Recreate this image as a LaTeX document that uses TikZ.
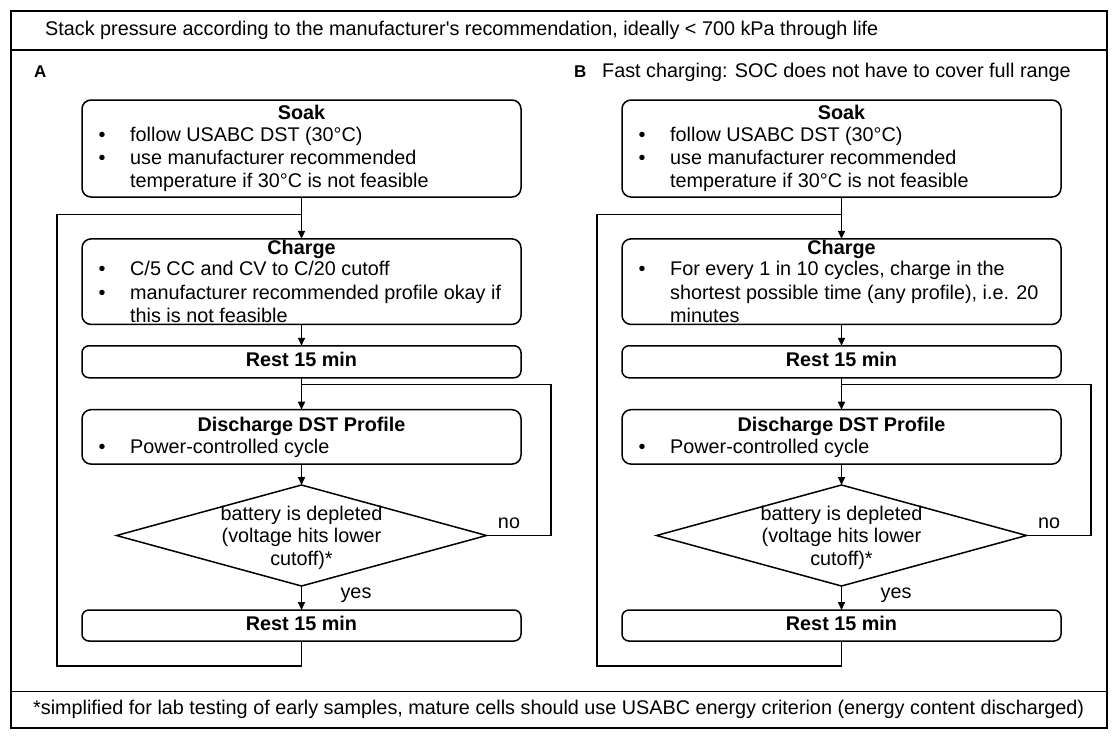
\documentclass[tikz,border=0pt]{standalone}
\usepackage{fontspec}
\setmainfont{Liberation Sans}
\usetikzlibrary{arrows.meta,shapes.geometric}
\tikzset{
  base/.style={font=\fontsize{19.8}{23}\selectfont, yshift=-2pt},
  box/.style={draw, line width=1.5pt, rounded corners=9pt, inner sep=0pt, outer sep=0pt},
  ln/.style={base, anchor=mid west, inner sep=0pt},
  bul/.style={base, anchor=mid, inner sep=0pt},
  ttl/.style={base, anchor=mid, inner sep=0pt, font=\fontsize{19.8}{23}\selectfont\bfseries},
  ctr/.style={base, anchor=mid, inner sep=0pt},
  conn/.style={line width=1.5pt},
  arr/.style={line width=1.5pt, -{Triangle[length=8pt,width=7pt]}},
  dia/.style={draw, diamond, line width=1.5pt, inner sep=0pt, outer sep=0pt, minimum width=370pt, minimum height=101pt},
}
\newcommand\flowpanel[1]{%
  \node[box, minimum width=439pt, minimum height=97pt] (#1soak) at (301.5,148.5) {};
  \node[ttl] (#1soakT) at (301.5,114.6) {Soak};
  \node[bul] (#1soakB1) at (102,136.9) {•};
  \node[ln] (#1soakL1) at (130,136.9) {follow USABC DST (30°C)};
  \node[bul] (#1soakB2) at (102,160.2) {•};
  \node[ln] (#1soakL2) at (130,160.2) {use manufacturer recommended};
  \node[ln] (#1soakL3) at (130,183) {temperature if 30°C is not feasible};
  \coordinate (#1j1) at (301.5,214.6);
  \node[box, minimum width=439pt, minimum height=85.5pt] (#1charge) at (301.5,281.65) {};
  \node[ttl] (#1chargeT) at (301.5,250) {Charge};
  \node[box, rounded corners=7pt, minimum width=439pt, minimum height=32pt] (#1rest1) at (301.5,361.75) {};
  \node[ttl] (#1rest1T) at (#1rest1) {Rest 15 min};
  \coordinate (#1j2) at (301.5,384.5);
  \node[box, minimum width=439pt, minimum height=54.4pt] (#1dis) at (301.5,436.9) {};
  \node[ttl] (#1disT) at (301.5,427.2) {Discharge DST Profile};
  \node[bul] (#1disB1) at (102,448.6) {•};
  \node[ln] (#1disL1) at (130,448.6) {Power-controlled cycle};
  \node[dia] (#1dia) at (301.5,535.5) {};
  \node[ctr] (#1diaL1) at (301.5,516) {battery is depleted};
  \node[ctr] (#1diaL2) at (301.5,538) {(voltage hits lower};
  \node[ctr] (#1diaL3) at (301.5,560.5) {cutoff)*};
  \node[ctr] (#1no) at (509,524) {no};
  \node[ctr] (#1yes) at (356,594) {yes};
  \node[box, rounded corners=7pt, minimum width=439pt, minimum height=31pt] (#1rest2) at (301.5,625.5) {};
  \node[ttl] (#1rest2T) at (#1rest2) {Rest 15 min};
  \coordinate (#1lbr) at (301.5,666);
  \coordinate (#1lbl) at (57,666);
  \coordinate (#1ltl) at (57,214.6);
  \coordinate (#1irt) at (551,384.5);
  % connectors
  \draw[arr] (#1soak.south) -- (#1charge.north);
  \draw[conn] (#1rest2.south) -- (#1lbr) -- (#1lbl) -- (#1ltl) -- (#1j1);
  \draw[arr] (#1charge.south) -- (#1rest1.north);
  \draw[arr] (#1rest1.south) -- (#1dis.north);
  \draw[conn] (#1dia.east) -| (#1irt) -- (#1j2);
  \draw[arr] (#1dis.south) -- (#1dia.north);
  \draw[arr] (#1dia.south) -- (#1rest2.north);
}
\begin{document}
\begin{tikzpicture}[x=1pt,y=-1pt]
  \useasboundingbox (0,0) rectangle (1118,739);
  \fill[white] (0,0) rectangle (1118,739);
  % frame
  \draw[line width=1.4pt] (11,11) rectangle (1107,728);
  \draw[line width=1.4pt] (11,50) -- (1107,50);
  \draw[line width=1.4pt] (11,691.5) -- (1107,691.5);
  \node[ln] (title) at (45,30.5) {Stack pressure according to the manufacturer\textquotesingle s recommendation, ideally < 700 kPa through life};
  \node[ln, font=\fontsize{17}{20}\selectfont\bfseries] (labA) at (34,73) {A};
  \node[ln, font=\fontsize{17}{20}\selectfont\bfseries] (labB) at (574,73) {B};
  \node[ln] (subB) at (602,73) {Fast charging: SOC does not have to cover full range};
  \node[ln] (foot) at (33,710) {*simplified for lab testing of early samples, mature cells should use USABC energy criterion (energy content discharged)};
  % panel A
  \flowpanel{A}
  \node[bul] (AchB1) at (102,270.5) {•};
  \node[ln] (AchL1) at (130,270.5) {C/5 CC and CV to C/20 cutoff};
  \node[bul] (AchB2) at (102,294.8) {•};
  \node[ln] (AchL2) at (130,294.8) {manufacturer recommended profile okay if};
  \node[ln] (AchL3) at (130,318.3) {this is not feasible};
  % panel B
  \begin{scope}[xshift=540pt]
    \flowpanel{B}
    \node[bul] (BchB1) at (102,270.5) {•};
    \node[ln] (BchL1) at (130,270.5) {For every 1 in 10 cycles, charge in the};
    \node[ln] (BchL2) at (130,294.8) {shortest possible time (any profile), i.e. 20};
    \node[ln] (BchL3) at (130,318.3) {minutes};
  \end{scope}
\end{tikzpicture}
\end{document}
